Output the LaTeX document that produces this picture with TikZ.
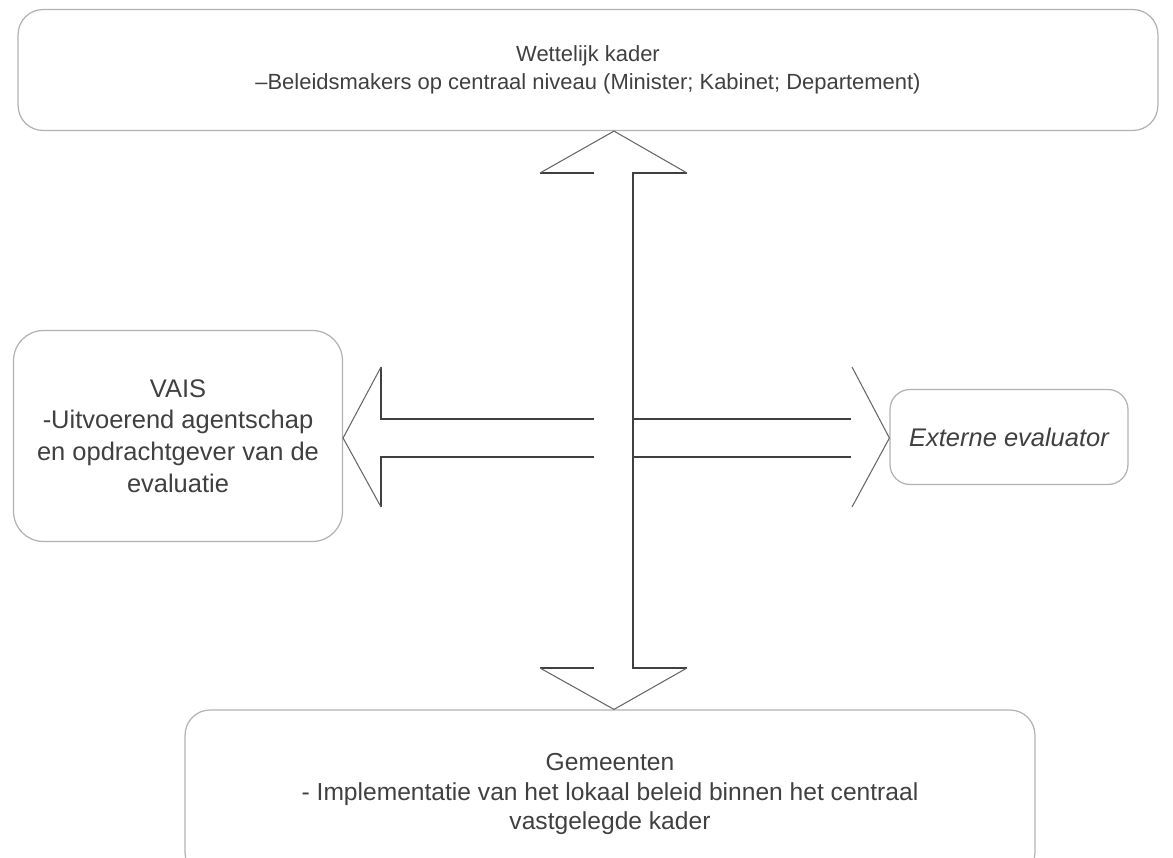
\documentclass[tikz,border=0pt]{standalone}
\usepackage{fontspec}
\setmainfont{Liberation Sans}
\usetikzlibrary{positioning,calc}

\begin{document}
\begin{tikzpicture}[
    x=0.02cm, y=-0.02cm,
    font=\fontsize{14.5}{18}\selectfont,
    box/.style={draw=gray!60, line width=0.7pt, rounded corners=0.5cm, align=center, inner sep=4pt, text=black!75},
    blk/.style={draw=black!75, line width=0.8pt},
    head/.style={draw=black!60, line width=0.6pt},
  ]
    \useasboundingbox (0,0) rectangle (1173,858);
    \clip (0,0) rectangle (1173,858);
    % boxes
    \node[box, minimum width=22.8cm, minimum height=2.42cm, font=\fontsize{12.5}{16}\selectfont] (kader) at (588,70) {Wettelijk kader\\–Beleidsmakers op centraal niveau (Minister; Kabinet; Departement)};
    \node[box, minimum width=6.58cm, minimum height=4.22cm, rounded corners=0.6cm] (vais) at (178,436) {VAIS\\-Uitvoerend agentschap\\en opdrachtgever van de\\evaluatie};
    \node[box, minimum width=4.76cm, minimum height=1.9cm, rounded corners=0.4cm, font=\fontsize{14.5}{18}\selectfont\itshape] (extern) at (1009,437) {Externe evaluator};
    \node[box, minimum width=17cm, minimum height=3.36cm, font=\fontsize{14}{17}\selectfont] (gem) at (610,794) {Gemeenten\\- Implementatie van het lokaal beleid binnen het centraal\\vastgelegde kader};
    % arrow tips
    \coordinate (c) at (614,438);
    \coordinate (uptip) at (kader.south -| c);
    \coordinate (downtip) at (gem.north -| c);
    \coordinate (lefttip) at (vais.east |- c);
    \coordinate (righttip) at (extern.west |- c);
    % vertical double arrow
    \draw[blk] (594,173) -- (540,173) (687,173) -- (633,173) -- (633,668) -- (687,668) (540,668) -- (594,668);
    \draw[head] (540,173) -- (uptip) -- (687,173);
    \draw[head] (687,668) -- (downtip) -- (540,668);
    % left arrow
    \draw[blk] (594,419) -- (381,419) -- (381,367) (381,507) -- (381,457) -- (594,457);
    \draw[head] (381,367) -- (lefttip) -- (381,507);
    % right arrow
    \draw[blk] (633,419) -- (851,419) (633,457) -- (851,457);
    \draw[head] (852,367) -- (righttip) -- (852,507);
\end{tikzpicture}
\end{document}
